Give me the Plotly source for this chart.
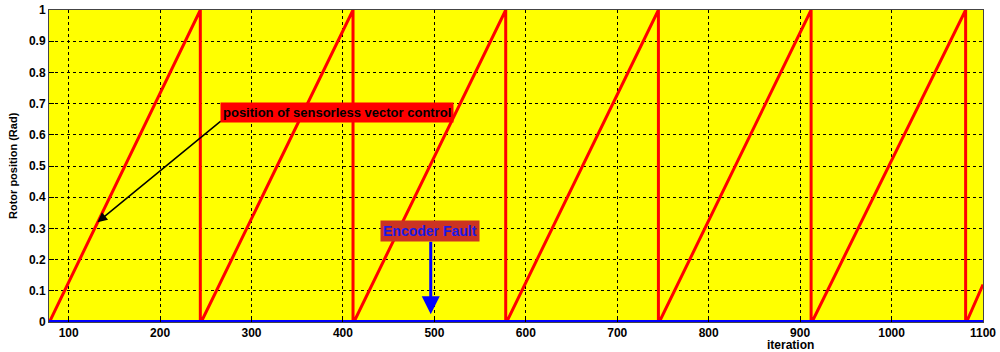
import plotly.graph_objects as go

# sawtooth vertices (iteration, position)
saw_x = [79, 244, 244, 245, 411, 411, 412, 578, 578, 579, 745, 745, 746, 912, 912, 913, 1081, 1081, 1082, 1100]
saw_y = [0, 1, 0, 0, 1, 0, 0, 1, 0, 0, 1, 0, 0, 1, 0, 0, 1, 0, 0, 0.12]

# encoder position after the fault (flat at zero)
enc_x = [78, 1100]
enc_y = [0, 0]

x_ticks = [100, 200, 300, 400, 500, 600, 700, 800, 900, 1000, 1100]
y_ticks = [0, 0.1, 0.2, 0.3, 0.4, 0.5, 0.6, 0.7, 0.8, 0.9, 1]
y_labels = ["0", "0.1", "0.2", "0.3", "0.4", "0.5", "0.6", "0.7", "0.8", "0.9", "1"]

FONT = "Liberation Sans, Arial, sans-serif"
bold = dict(family=FONT, size=12, color="black", weight="bold")

fig = go.Figure()
fig.add_trace(go.Scatter(x=saw_x, y=saw_y, mode="lines", line=dict(color="#FF0000", width=3), showlegend=False))
fig.add_trace(go.Scatter(x=enc_x, y=enc_y, mode="lines", line=dict(color="#0000FF", width=4),
                         showlegend=False, cliponaxis=False))

axis_common = dict(showgrid=True, gridcolor="black", griddash="dot", gridwidth=1,
                   showline=True, linecolor="#444444", linewidth=1, mirror=True,
                   ticks="inside", ticklen=5, tickcolor="black", zeroline=False,
                   tickfont=bold, automargin=False, ticklabeloverflow="allow")

fig.update_xaxes(range=[78.5, 1100], tickvals=x_ticks, **axis_common)
fig.update_yaxes(range=[0, 1], tickvals=y_ticks, ticktext=y_labels, **axis_common)

fig.update_layout(
    width=1000, height=352,
    margin=dict(l=49, r=17, t=10, b=30),
    paper_bgcolor="white", plot_bgcolor="#FFFF00",
)

# axis titles as MATLAB placed them
fig.add_annotation(x=0, y=0.5, xref="paper", yref="paper", xshift=-36, textangle=-90,
                   xanchor="center", yanchor="middle",
                   text="Rotor position (Rad)", showarrow=False,
                   font=dict(family=FONT, size=11, color="black", weight="bold"))
fig.add_annotation(x=0.794, y=0, xref="paper", yref="paper", yshift=-23, text="iteration",
                   xanchor="center", yanchor="middle", showarrow=False, font=bold)

# black arrow to the sensorless curve
fig.add_annotation(x=131.5, y=0.32, ax=268, ay=0.648, axref="x", ayref="y", xref="x", yref="y",
                   text="", showarrow=True, arrowhead=2, arrowsize=1.3, arrowwidth=1.5, arrowcolor="black")
fig.add_annotation(x=393.5, y=0.673, xref="x", yref="y", text="position of sensorless vector control",
                   showarrow=False, bgcolor="#FF0000", borderpad=2,
                   font=dict(family=FONT, size=13, color="black", weight="bold"))

# blue arrow to the encoder fault
fig.add_annotation(x=496, y=0.025, ax=496, ay=0.262, axref="x", ayref="y", xref="x", yref="y",
                   text="", showarrow=True, arrowhead=2, arrowsize=1.2, arrowwidth=3, arrowcolor="#0000FF")
fig.add_annotation(x=495.5, y=0.292, xref="x", yref="y", text="Encoder Fault",
                   showarrow=False, bgcolor="#CC3322", borderpad=2,
                   font=dict(family=FONT, size=14, color="#1A1AE6", weight="bold"))

# drop the default page margin so the figure sits at the window corner
fig.write_html("out.html", config={"displayModeBar": False},
               post_script="document.body.style.margin='0';")
